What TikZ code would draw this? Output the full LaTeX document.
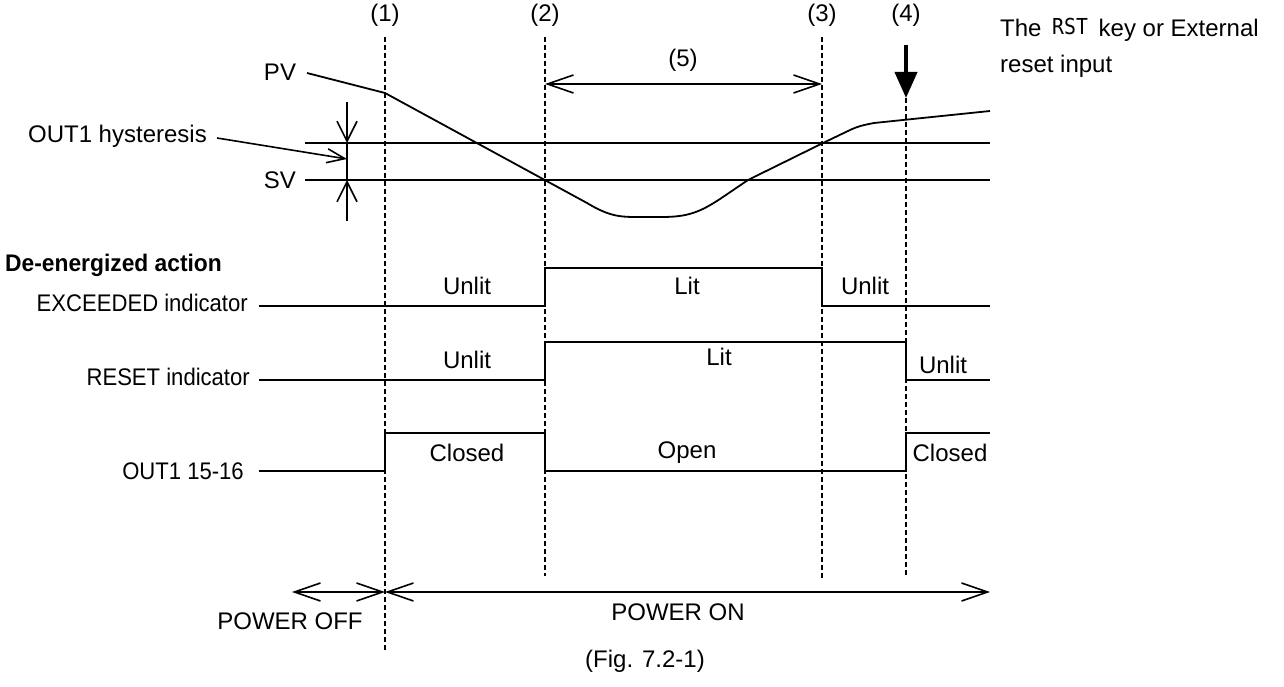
\documentclass[tikz,border=0pt]{standalone}
\usepackage{fontspec}
\setmainfont{Liberation Sans}
\newfontfamily\segfont{DejaVu Sans Mono}
\usetikzlibrary{arrows.meta}
\newcommand{\narrow}[2]{\scalebox{#1}[1]{#2}}
\begin{document}
\begin{tikzpicture}[x=1pt,y=-1pt,
  txt/.style={font=\fontsize{24}{28}\selectfont, inner sep=0pt},
  sig/.style={line width=1.8pt},
  guide/.style={dash pattern=on 5pt off 3pt, line width=1.3pt},
  barbs/.style={line width=1.6pt,{Straight Barb[length=26pt,width=18pt]}-{Straight Barb[length=26pt,width=18pt]}},
  vbarb/.style={line width=1.6pt,-{Straight Barb[length=20pt,width=20pt]}},
  hbarb/.style={line width=1.6pt,-{Straight Barb[length=18pt,width=14pt]}},
  thick arrow/.style={line width=4pt,-{Triangle[length=26pt,width=22pt]}}]
\useasboundingbox (0,0) rectangle (1284,687);
\fill[white] (0,0) rectangle (1284,687);

% time markers
\node[txt] (m1) at (385,15) {(1)};
\node[txt] (m2) at (545,15) {(2)};
\node[txt] (m3) at (822,15) {(3)};
\node[txt] (m4) at (906,15) {(4)};
\coordinate (v1t) at (385,37); \coordinate (v1b) at (385,652);
\coordinate (v2t) at (545,37); \coordinate (v2b) at (545,576);
\coordinate (v3t) at (822,37); \coordinate (v3b) at (822,580);
\coordinate (v4t) at (906,98); \coordinate (v4b) at (906,576);
\draw[guide] (v1t) -- (v1b);
\draw[guide] (v2t) -- (v2b);
\draw[guide] (v3t) -- (v3b);
\draw[guide] (v4t) -- (v4b);

% (5)
\node[txt] (m5) at (683,60) {(5)};
\coordinate (f5a) at (545,84); \coordinate (f5b) at (822,84);
\draw[barbs] (f5a) -- (f5b);

% reset key arrow
\coordinate (ka) at (906,45);
\draw[thick arrow] (ka) -- (v4t);
\node[txt, anchor=west] (key) at (1000,30) {The \,\raisebox{2pt}{\narrow{0.9}{\segfont\fontsize{22}{22}\selectfont RST}}\, key or External};
\node[txt, anchor=west] (key2) at (1000,66) {reset input};

% PV / SV
\node[txt] (pv) at (280,72) {PV};
\node[txt, anchor=east] (sv) at (296,180) {SV};
\node[txt, anchor=east] (hys) at (207,136) {OUT1 hysteresis};
\coordinate (hl) at (305,143); \coordinate (hr) at (990,143);
\coordinate (sl) at (305,180); \coordinate (sr) at (990,180);
\draw[sig] (hl) -- (hr);
\draw[sig] (sl) -- (sr);
\coordinate (ht) at (347,102); \coordinate (hb) at (347,221);
\coordinate (htip) at (347,143); \coordinate (btip) at (347,180);
\coordinate (hmid) at (347,159);
\draw[vbarb] (ht) -- (htip);
\draw[vbarb] (hb) -- (btip);
\draw[line width=1.6pt] (htip) -- (btip);
\draw[hbarb] ([xshift=10pt,yshift=-2pt]hys.east) -- (hmid);
\draw[sig] (307,73) -- (385,93) -- (587,203)
  .. controls (612,218) and (622,217) .. (645,217) -- (662,217)
  .. controls (688,217) and (700,212) .. (720,199) -- (748,180) -- (823,143) -- (848,131)
  .. controls (858,126) and (864,125) .. (874,123) -- (990,111);

% De-energized action
\node[txt, anchor=west, font=\fontsize{24}{28}\selectfont\bfseries] (de) at (5,265) {\narrow{0.95}{De-energized action}};

% EXCEEDED
\node[txt, anchor=east] (exl) at (248,303) {\narrow{0.92}{EXCEEDED indicator}};
\draw[sig] (259,306) -- (545,306) -- (545,268) -- (822,268) -- (822,306) -- (990,306);
\node[txt] (ex1) at (467,286) {Unlit};
\node[txt] (ex2) at (687,286) {Lit};
\node[txt] (ex3) at (865,286) {Unlit};

% RESET
\node[txt, anchor=east] (rsl) at (250,377) {\narrow{0.92}{RESET indicator}};
\draw[sig] (259,380) -- (545,380) -- (545,342) -- (906,342) -- (906,380) -- (990,380);
\node[txt] (rs1) at (467,360) {Unlit};
\node[txt] (rs2) at (719,357) {Lit};
\node[txt] (rs3) at (943,365) {Unlit};

% OUT1
\node[txt, anchor=east] (ol) at (244,471) {\narrow{0.92}{OUT1 15-16}};
\draw[sig] (259,471) -- (385,471) -- (385,433) -- (545,433) -- (545,471) -- (906,471) -- (906,433) -- (990,433);
\node[txt] (o1) at (467,453) {Closed};
\node[txt] (o2) at (687,453) {Open};
\node[txt] (o3) at (950,453) {Closed};

% power
\coordinate (pa) at (292,592); \coordinate (pb) at (385,592); \coordinate (pc) at (990,592);
\draw[barbs] (pa) -- (pb);
\draw[barbs] (pb) -- (pc);
\node[txt] (poff) at (290,621) {POWER OFF};
\node[txt] (pon) at (678,612) {POWER ON};
\node[txt] (fig) at (645,661) {(Fig. 7.2-1)};
\end{tikzpicture}
\end{document}
